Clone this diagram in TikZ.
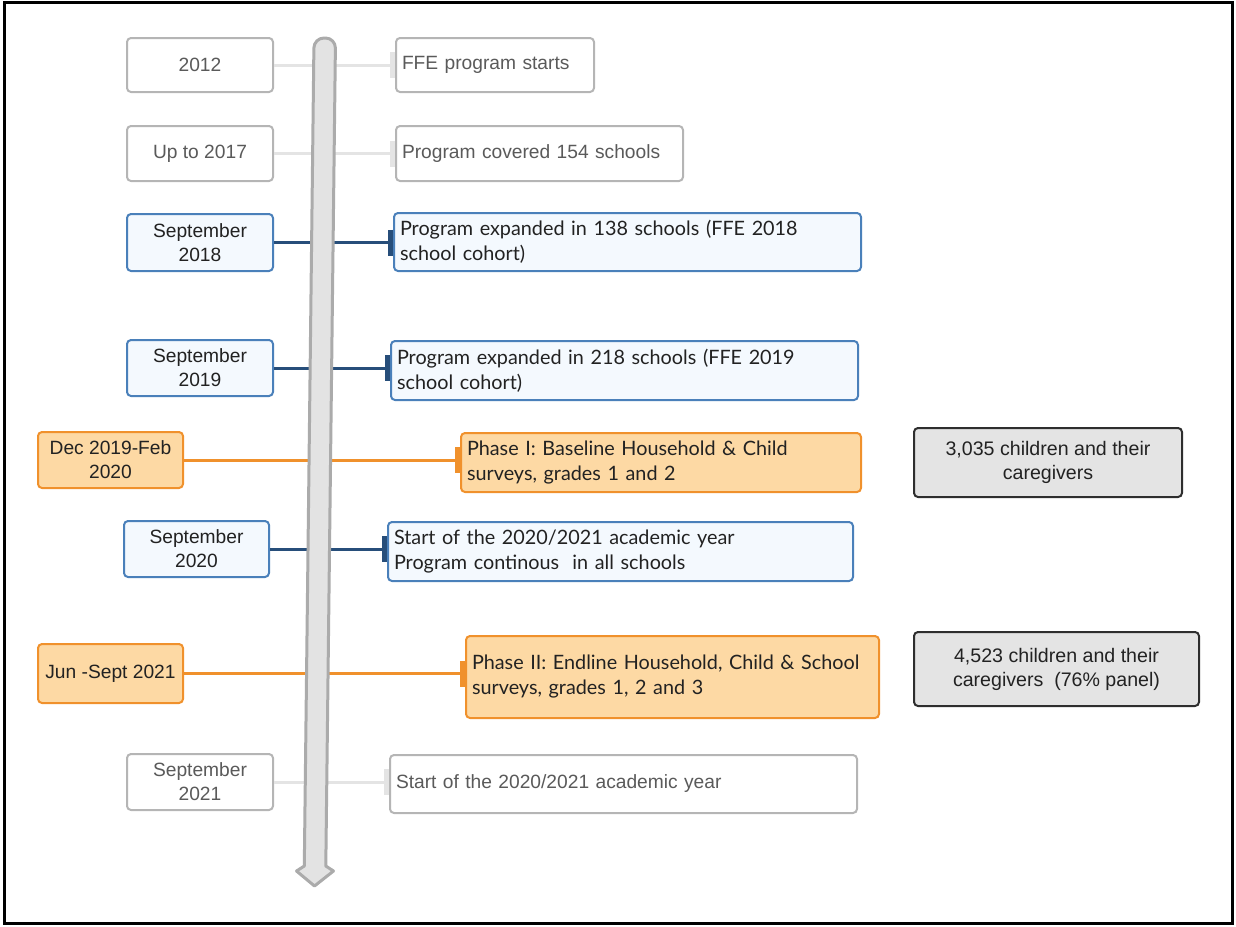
\documentclass[tikz,border=0pt]{standalone}
\usepackage{fontspec}
\setmainfont{Liberation Sans}
\newfontfamily\latofont{Lato}
\usetikzlibrary{arrows.meta,positioning}

\definecolor{greydraw}{HTML}{B5B5B5}
\definecolor{greytext}{HTML}{5A5A5A}
\definecolor{greylink}{HTML}{E4E4E4}
\definecolor{bluedraw}{HTML}{4A80BA}
\definecolor{bluefill}{HTML}{F4F9FE}
\definecolor{bluelink}{HTML}{274E7A}
\definecolor{orangedraw}{HTML}{F0912C}
\definecolor{orangefill}{HTML}{FDD9A4}
\definecolor{barfill}{HTML}{E3E3E3}
\definecolor{bardraw}{HTML}{ABABAB}
\definecolor{sumfill}{HTML}{E4E4E4}
\definecolor{sumdraw}{HTML}{2E2E2E}
\definecolor{darktext}{HTML}{222222}

\begin{document}
\begin{tikzpicture}[
  x=0.5pt, y=-0.5pt,
  datebox/.style={draw,rounded corners=2pt,line width=1pt,minimum width=73pt,align=center,
    inner sep=2pt,font=\fontsize{9.6}{12}\selectfont},
  evtbox/.style={draw,rounded corners=2pt,line width=1pt,anchor=west,align=left,
    inner xsep=3pt,inner ysep=2pt},
  greybox/.style={draw=greydraw,fill=white,text=greytext},
  bluebox/.style={draw=bluedraw,fill=bluefill,text=darktext},
  orangebox/.style={draw=orangedraw,fill=orangefill,text=darktext},
  plaintext/.style={font=\fontsize{9.6}{12}\selectfont},
  latotext/.style={font=\latofont\fontsize{9.9}{12.5}\selectfont},
  sumbox/.style={draw=sumdraw,fill=sumfill,text=darktext,rounded corners=2pt,line width=1pt,
    align=center,font=\fontsize{9.8}{12}\selectfont},
  conn/.style={line width=1.5pt,-{Bar[width=13pt,line width=2.5pt]}},
  timebar/.style={draw=bardraw,fill=barfill,line width=1.5pt,line join=round}
]
  \useasboundingbox (0,0) rectangle (1236,926);
  \draw[line width=1.5pt] (4.5,2.5) rectangle (1232.5,923.5);

  % dates
  \node[datebox,greybox,minimum height=27pt] (d1) at (200,65) {2012};
  \node[datebox,greybox,minimum height=27.5pt] (d2) at (200,153.5) {Up to 2017};
  \node[datebox,bluebox,minimum height=28.5pt] (d3) at (200,242.5) {September\\2018};
  \node[datebox,bluebox,minimum height=28pt] (d4) at (200,368) {September\\2019};
  \node[datebox,orangebox,minimum width=72.5pt,minimum height=28pt] (d5) at (110.5,460) {Dec 2019-Feb\\2020};
  \node[datebox,bluebox,minimum width=72.5pt,minimum height=28pt] (d6) at (196.5,549) {September\\2020};
  \node[datebox,orangebox,minimum width=72.5pt,minimum height=29.5pt] (d7) at (110.5,673.5) {Jun -Sept 2021};
  \node[datebox,greybox,minimum height=28pt] (d8) at (200,782) {September\\2021};

  % events
  \node[evtbox,greybox,plaintext,text width=93pt,minimum height=27pt] (e1) at (395,65) {FFE program starts};
  \node[evtbox,greybox,plaintext,text width=137.5pt,minimum height=27.5pt] (e2) at (395,153.5) {Program covered 154 schools};
  \node[evtbox,bluebox,latotext,text width=227.5pt,minimum height=29pt] (e3) at (393,242) {Program expanded in 138 schools (FFE 2018\\school cohort)};
  \node[evtbox,bluebox,latotext,text width=227.5pt,minimum height=29.5pt] (e4) at (390,370.5) {Program expanded in 218 schools (FFE 2019\\school cohort)};
  \node[evtbox,orangebox,latotext,text width=194pt,minimum height=29.5pt] (e5) at (460,462.5) {Phase I: Baseline Household \& Child\\surveys, grades 1 and 2};
  \node[evtbox,bluebox,latotext,text width=226.5pt,minimum height=29.5pt] (e6) at (387,551.5) {Start of the 2020/2021 academic year\\Program continous\ \ in all schools};
  \node[evtbox,orangebox,latotext,text width=200.5pt,minimum height=41pt] (e7) at (465,677) {Phase II: Endline Household, Child \& School\\surveys, grades 1, 2 and 3};
  \node[evtbox,greybox,plaintext,text width=227.5pt,minimum height=29pt] (e8) at (389,784) {Start of the 2020/2021 academic year};

  % samples
  \node[sumbox,minimum width=134pt,minimum height=34.5pt] (s1) at (1048,462.5) {3,035 children and their\\caregivers};
  \node[sumbox,minimum width=142.5pt,minimum height=37pt] (s2) at (1056.5,669) {4,523 children and their\\caregivers\ \ (76\% panel)};

  % links
  \draw[conn,greylink] (d1.east) -- (d1.east -| e1.west);
  \draw[conn,greylink] (d2.east) -- (d2.east -| e2.west);
  \draw[conn,bluelink] (d3.east) -- (d3.east -| e3.west);
  \draw[conn,bluelink] (d4.east) -- (d4.east -| e4.west);
  \draw[conn,orangedraw] (d5.east) -- (d5.east -| e5.west);
  \draw[conn,bluelink] (d6.east) -- (d6.east -| e6.west);
  \draw[conn,orangedraw] (d7.east) -- (d7.east -| e7.west);
  \draw[conn,greylink] (d8.east) -- (d8.east -| e8.west);

  % time axis
  \draw[timebar] (304.3,866) [rounded corners=5pt] -- (314,38) -- (335.5,38)
    [sharp corners] -- (325.8,866) -- (333.5,871) -- (314.5,886) -- (296.5,871) -- cycle;
\end{tikzpicture}
\end{document}
